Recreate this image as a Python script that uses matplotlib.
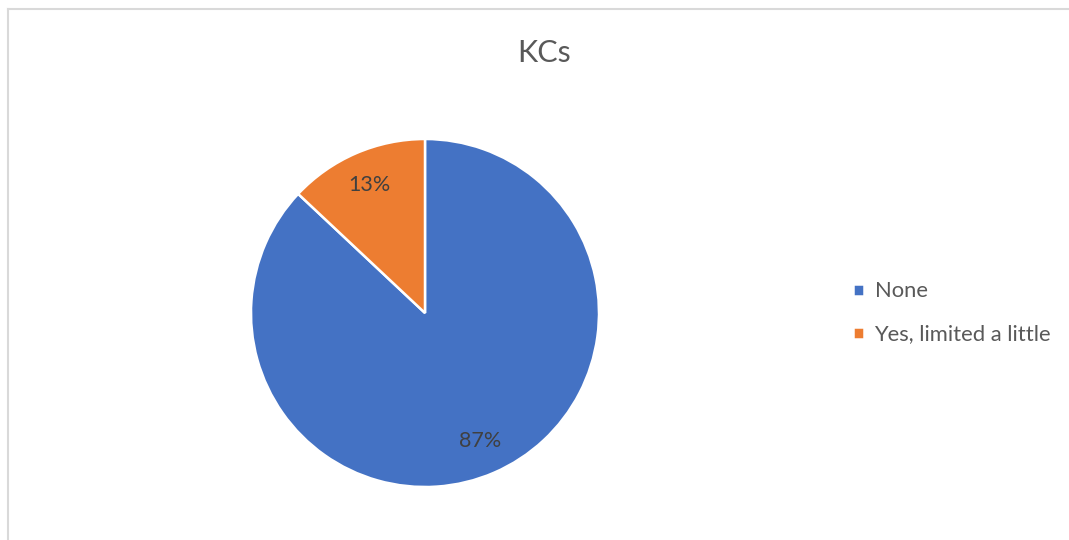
import matplotlib
matplotlib.use('Agg')
import matplotlib.pyplot as plt
from matplotlib.lines import Line2D

# Data
labels = ['None', 'Yes, limited a little']
values = [87, 13]
colors = ['#4472C4', '#ED7D31']
title = 'KCs'

plt.rcParams['font.family'] = ['Lato', 'DejaVu Sans']

W, H = 1069, 540
fig = plt.figure(figsize=(W / 100, H / 100), dpi=100)

# pie axes: center (425, 313), radius 174 px
cx, cy, r = 425, 313, 174
ax = fig.add_axes([(cx - r) / W, (H - cy - r) / H, 2 * r / W, 2 * r / H])
wedges, texts, autotexts = ax.pie(values, colors=colors, startangle=90, counterclock=False,
                                  autopct='%1.0f%%', pctdistance=0.8,
                                  wedgeprops=dict(edgecolor='white', linewidth=1.8),
                                  textprops=dict(color='#404040', fontsize=15.5))
ax.set_xlim(-1, 1)
ax.set_ylim(-1, 1)
ax.set_aspect('equal')

fig.text(544 / W, 1 - 53 / H, title, ha='center', va='center', fontsize=22, color='#595959')

leg = fig.legend(wedges, labels, loc='center left', bbox_to_anchor=(853 / W, 1 - 313 / H),
                 frameon=False, fontsize=15.8, handlelength=0.48, handleheight=0.48,
                 handletextpad=0.5, labelspacing=1.05, borderpad=0, borderaxespad=0)
for t in leg.get_texts():
    t.set_color('#595959')

# chart area border (left and top visible)
fig.add_artist(Line2D([7.5 / W, 7.5 / W], [0, 1 - 8.5 / H], transform=fig.transFigure,
                      color='#d9d9d9', linewidth=1.5))
fig.add_artist(Line2D([7.5 / W, 1], [1 - 8.5 / H, 1 - 8.5 / H], transform=fig.transFigure,
                      color='#d9d9d9', linewidth=1.5))

fig.savefig('out.png', dpi=100, facecolor='white')
